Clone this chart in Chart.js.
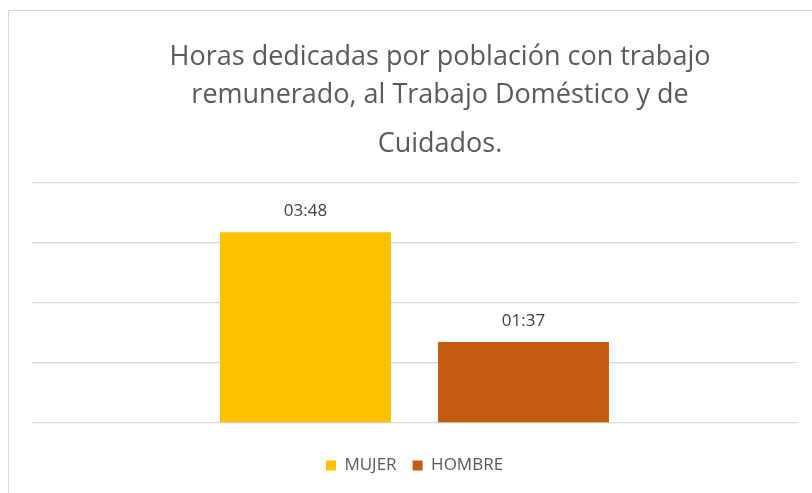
<!DOCTYPE html>
<html>
<head>
<meta charset="utf-8">
<script src="https://cdn.jsdelivr.net/npm/chart.js@4.4.1/dist/chart.umd.min.js"></script>
<style>
  html, body { margin: 0; padding: 0; background: #fff; overflow: hidden; }
  #frame { position: absolute; left: 8px; top: 10px; width: 862px; height: 490px; border: 1px solid #d9d9d9; }
  canvas { display: block; }
</style>
</head>
<body>
<div id="frame"><canvas id="chart" width="862" height="490"></canvas></div>
<script>
const titleLines = ['Horas dedicadas por población con trabajo', 'remunerado, al Trabajo Doméstico y de'];
const subtitleText = 'Cuidados.';
const categories = [''];
const seriesNames = ['MUJER', 'HOMBRE'];
// minutes per day
const mujerMinutes = [228];
const hombreMinutes = [97];
const seriesColors = ['#FFC000', '#C55A11'];
const axisMax = 288;   // 04:48
const axisStep = 72;   // 01:12

const FONT = '"Open Sans", Lato, sans-serif';

function hhmm(minutes) {
  const h = Math.floor(minutes / 60);
  const m = Math.round(minutes % 60);
  return String(h).padStart(2, '0') + ':' + String(m).padStart(2, '0');
}

const valueLabels = {
  id: 'valueLabels',
  afterDatasetsDraw(chart) {
    const { ctx } = chart;
    ctx.save();
    ctx.font = '17px ' + FONT;
    ctx.fillStyle = '#404040';
    ctx.textAlign = 'center';
    ctx.textBaseline = 'middle';
    chart.data.datasets.forEach((ds, i) => {
      const meta = chart.getDatasetMeta(i);
      meta.data.forEach((bar, j) => {
        ctx.fillText(hhmm(ds.data[j]), bar.x, bar.y - 21);
      });
    });
    ctx.restore();
  }
};

new Chart(document.getElementById('chart'), {
  type: 'bar',
  data: {
    labels: categories,
    datasets: [
      { label: seriesNames[0], data: mujerMinutes, backgroundColor: seriesColors[0] },
      { label: seriesNames[1], data: hombreMinutes, backgroundColor: seriesColors[1] }
    ]
  },
  options: {
    responsive: false,
    animation: false,
    categoryPercentage: 0.57,
    barPercentage: 0.784,
    layout: { padding: { left: 0, right: 0, top: 0, bottom: 17 } },
    plugins: {
      title: {
        display: true,
        text: titleLines,
        color: '#595959',
        font: { family: FONT, size: 27, weight: 'normal', lineHeight: 1.41 },
        padding: { top: 27, bottom: 6 }
      },
      subtitle: {
        display: true,
        text: subtitleText,
        color: '#595959',
        font: { family: FONT, size: 27, weight: 'normal', lineHeight: 1.41 },
        padding: { top: 5, bottom: 19 }
      },
      legend: {
        position: 'bottom',
        fullSize: false,
        labels: {
          color: '#595959',
          font: { family: FONT, size: 17 },
          boxWidth: 10,
          boxHeight: 10,
          padding: 16
        }
      },
      tooltip: { enabled: false }
    },
    scales: {
      x: {
        grid: { display: false },
        border: { display: false },
        ticks: { display: false },
        afterFit(scale) { scale.height = 18; }
      },
      y: {
        min: 0,
        max: axisMax,
        ticks: { display: false, stepSize: axisStep },
        grid: { color: '#d9d9d9', lineWidth: 1.3, drawTicks: false },
        border: { display: false },
        afterFit(scale) { scale.width = 23; }
      },
      yRight: {
        position: 'right',
        min: 0,
        max: axisMax,
        ticks: { display: false },
        grid: { display: false },
        border: { display: false },
        afterFit(scale) { scale.width = 74; }
      }
    }
  },
  plugins: [valueLabels]
});
</script>
</body>
</html>
